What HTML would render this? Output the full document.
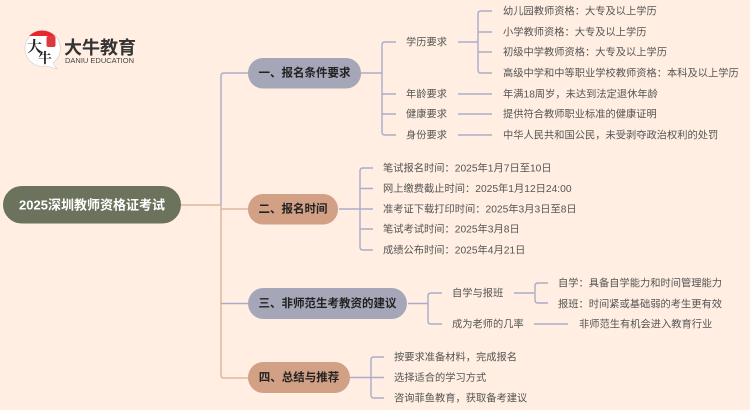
<!DOCTYPE html>
<html lang="zh"><head><meta charset="utf-8"><style>
html,body{margin:0;padding:0;background:#ffeee1}
svg{display:block}
text{font-family:"Liberation Sans","Noto Sans CJK SC",sans-serif;dominant-baseline:central}
.l{font-size:10.250px;fill:#555}
.b{font-size:11.500px;font-weight:700;fill:#222;text-anchor:middle}
.p{fill:none;stroke:#a9adc8;stroke-width:1.400}
.t{fill:none;stroke:#dfb59c;stroke-width:1.500}
</style></head><body>
<svg width="750" height="410" viewBox="0 0 750 410" xmlns="http://www.w3.org/2000/svg">
<rect width="750" height="410" fill="#ffeee1"/>
<!-- trunk -->
<path class="p" d="M221 205V76Q221 73 224 73H248"/>
<path class="t" d="M181 205H221M221 205V375Q221 378 224 378H248M221 209H248"/>
<path class="p" d="M221 303.500H248"/>
<!-- branch 1 -->
<path class="p" d="M361 73H382M396 42H385Q382 42 382 45V132Q382 135 385 135H396M382 94H396M382 114H396"/>
<path class="p" d="M458 42H478M492 11H481Q478 11 478 14V70Q478 73 481 73H492M478 32H492M478 52H492M458 94H492M458 114H492M458 135H492"/>
<!-- branch 2 -->
<path class="p" d="M339 209H373M373 168H363Q360 168 360 171V247Q360 250 363 250H373M360 188.500H373M360 229H373"/>
<!-- branch 3 -->
<path class="p" d="M408 303.500H428M442 293H431Q428 293 428 296V321Q428 324 431 324H442"/>
<path class="p" d="M514 293H534M548 283H538Q535 283 535 286V300Q535 303 538 303H548M534 324H568"/>
<!-- branch 4 -->
<path class="p" d="M350 377.500H384M384 357H374Q371 357 371 360V395Q371 398 374 398H384"/>
<!-- root -->
<rect x="3" y="186" width="178" height="37.500" rx="18.700" fill="#6b735c"/>
<text x="92" y="205" text-anchor="middle" font-size="13" font-weight="700" fill="#fff">2025深圳教师资格证考试</text>
<!-- branches -->
<rect x="248" y="58" width="113" height="30.500" rx="15" fill="#a5a6b8"/>
<text class="b" x="304.500" y="73.500">一、报名条件要求</text>
<rect x="248" y="194" width="90" height="30.500" rx="15" fill="#d2a085"/>
<text class="b" x="293" y="209.500">二、报名时间</text>
<rect x="248" y="288" width="159" height="31" rx="15.500" fill="#a5a6b8"/>
<text class="b" x="327.500" y="304">三、非师范生考教资的建议</text>
<rect x="248" y="362" width="102" height="31" rx="15.500" fill="#d2a085"/>
<text class="b" x="299" y="378">四、总结与推荐</text>
<!-- labels -->
<g class="l" transform="translate(0,0.800)">
<text class="l" x="406" y="42">学历要求</text>
<text class="l" x="406" y="94">年龄要求</text>
<text class="l" x="406" y="114">健康要求</text>
<text class="l" x="406" y="135">身份要求</text>
<text class="l" x="503" y="11">幼儿园教师资格：大专及以上学历</text>
<text class="l" x="503" y="32">小学教师资格：大专及以上学历</text>
<text class="l" x="503" y="52">初级中学教师资格：大专及以上学历</text>
<text class="l" x="503" y="73">高级中学和中等职业学校教师资格：本科及以上学历</text>
<text class="l" x="503" y="94">年满18周岁，未达到法定退休年龄</text>
<text class="l" x="503" y="114">提供符合教师职业标准的健康证明</text>
<text class="l" x="503" y="135">中华人民共和国公民，未受剥夺政治权利的处罚</text>
<text class="l" x="383" y="168">笔试报名时间：2025年1月7日至10日</text>
<text class="l" x="383" y="188.500">网上缴费截止时间：2025年1月12日24:00</text>
<text class="l" x="383" y="209">准考证下载打印时间：2025年3月3日至8日</text>
<text class="l" x="383" y="229">笔试考试时间：2025年3月8日</text>
<text class="l" x="383" y="250">成绩公布时间：2025年4月21日</text>
<text class="l" x="452" y="293">自学与报班</text>
<text class="l" x="452" y="324">成为老师的几率</text>
<text class="l" x="558" y="283">自学：具备自学能力和时间管理能力</text>
<text class="l" x="558" y="304">报班：时间紧或基础弱的考生更有效</text>
<text class="l" x="579" y="324">非师范生有机会进入教育行业</text>
<text class="l" x="394" y="357">按要求准备材料，完成报名</text>
<text class="l" x="394" y="377.500">选择适合的学习方式</text>
<text class="l" x="394" y="398">咨询菲鱼教育，获取备考建议</text>
</g>
<!-- logo -->
<path d="M42 30.500A18 18 0 1 0 47 66L57 69L53 63A18 18 0 0 0 42 30.500Z" fill="#fff" stroke="#ccc" stroke-width=".6"/>
<path d="M29 36A18 18 0 0 1 55 36Z" fill="#e8272a"/>
<rect x="46.500" y="36" width="9" height="11" rx="2" fill="#e0383c"/>
<text x="27" y="46" font-size="15" font-weight="700" fill="#222" style="font-family:'Noto Serif CJK SC',serif">大</text>
<text x="38" y="58" font-size="14" font-weight="700" fill="#222" style="font-family:'Noto Serif CJK SC',serif">牛</text>
<text x="64" y="48" font-size="18" font-weight="700" fill="#333" textLength="72">大牛教育</text>
<text x="65" y="60.500" font-size="7.500" fill="#444" textLength="69">DANIU EDUCATION</text>
</svg>
</body></html>
